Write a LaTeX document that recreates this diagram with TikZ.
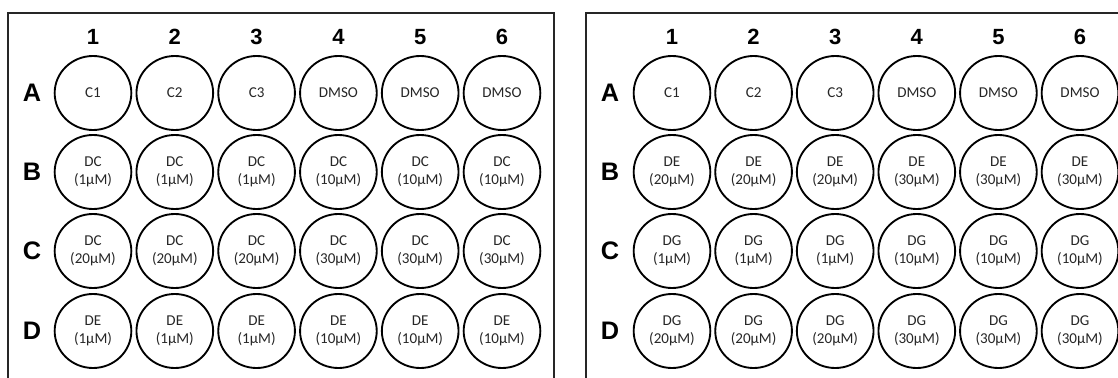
\documentclass[tikz,border=0pt]{standalone}
\usepackage{fontspec}
\setmainfont{Carlito}
\newfontfamily\labelfont{Liberation Sans}
\usetikzlibrary{shapes.geometric}

\begin{document}
\begin{tikzpicture}[
  x=0.75pt, y=-0.75pt,
  well/.style={draw, ellipse, line width=1.4pt, minimum width=57.5pt,
               minimum height=55.5pt, inner sep=0pt, align=center,
               font=\fontsize{11.3}{13.5}\selectfont, text=black!85},
  colnum/.style={font=\labelfont\bfseries\fontsize{16.5}{16.5}\selectfont},
  rowlab/.style={font=\labelfont\bfseries\fontsize{19}{19}\selectfont},
  frame/.style={draw=black!85, line width=1.3pt}
]
\useasboundingbox (0,0) rectangle (1118,378);
\clip (0,0) rectangle (1118,378);
% ---- left plate ----
\begin{scope}[shift={(8,13)}]
  \draw[frame] (0,400) -- (0,0) -- (546,0) -- (546,400);
  \foreach \c in {1,...,6}{
    \node[colnum] (lc\c) at ({85+81.8*(\c-1)},24) {\c};
  }
  \foreach \r/\ry in {A/80,B/159,C/238,D/318}{
    \node[rowlab] (lr\r) at (24,\ry) {\r};
  }
  \foreach \c/\nm in {1/C1,2/C2,3/C3,4/DMSO,5/DMSO,6/DMSO}{
    \node[well] (lA\c) at ({85+81.8*(\c-1)},80) {\nm};
  }
  \foreach \r/\ry/\drug/\ca/\cb in {B/159/DC/1/10,C/238/DC/20/30,D/318/DE/1/10}{
    \foreach \c/\k in {1/\ca,2/\ca,3/\ca,4/\cb,5/\cb,6/\cb}{
      \node[well] (l\r\c) at ({85+81.8*(\c-1)},\ry) {\drug\\(\k µM)};
    }
  }
\end{scope}
% ---- right plate ----
\begin{scope}[shift={(586,13)}]
  \draw[frame] (0,400) -- (0,0) -- (546,0) -- (546,400);
  \foreach \c in {1,...,6}{
    \node[colnum] (rc\c) at ({86+81.6*(\c-1)},24) {\c};
  }
  \foreach \r/\ry in {A/80,B/159,C/238,D/318}{
    \node[rowlab] (rr\r) at (24,\ry) {\r};
  }
  \foreach \c/\nm in {1/C1,2/C2,3/C3,4/DMSO,5/DMSO,6/DMSO}{
    \node[well] (rA\c) at ({86+81.6*(\c-1)},80) {\nm};
  }
  \foreach \r/\ry/\drug/\ca/\cb in {B/159/DE/20/30,C/238/DG/1/10,D/318/DG/20/30}{
    \foreach \c/\k in {1/\ca,2/\ca,3/\ca,4/\cb,5/\cb,6/\cb}{
      \node[well] (r\r\c) at ({86+81.6*(\c-1)},\ry) {\drug\\(\k µM)};
    }
  }
\end{scope}
\end{tikzpicture}
\end{document}
